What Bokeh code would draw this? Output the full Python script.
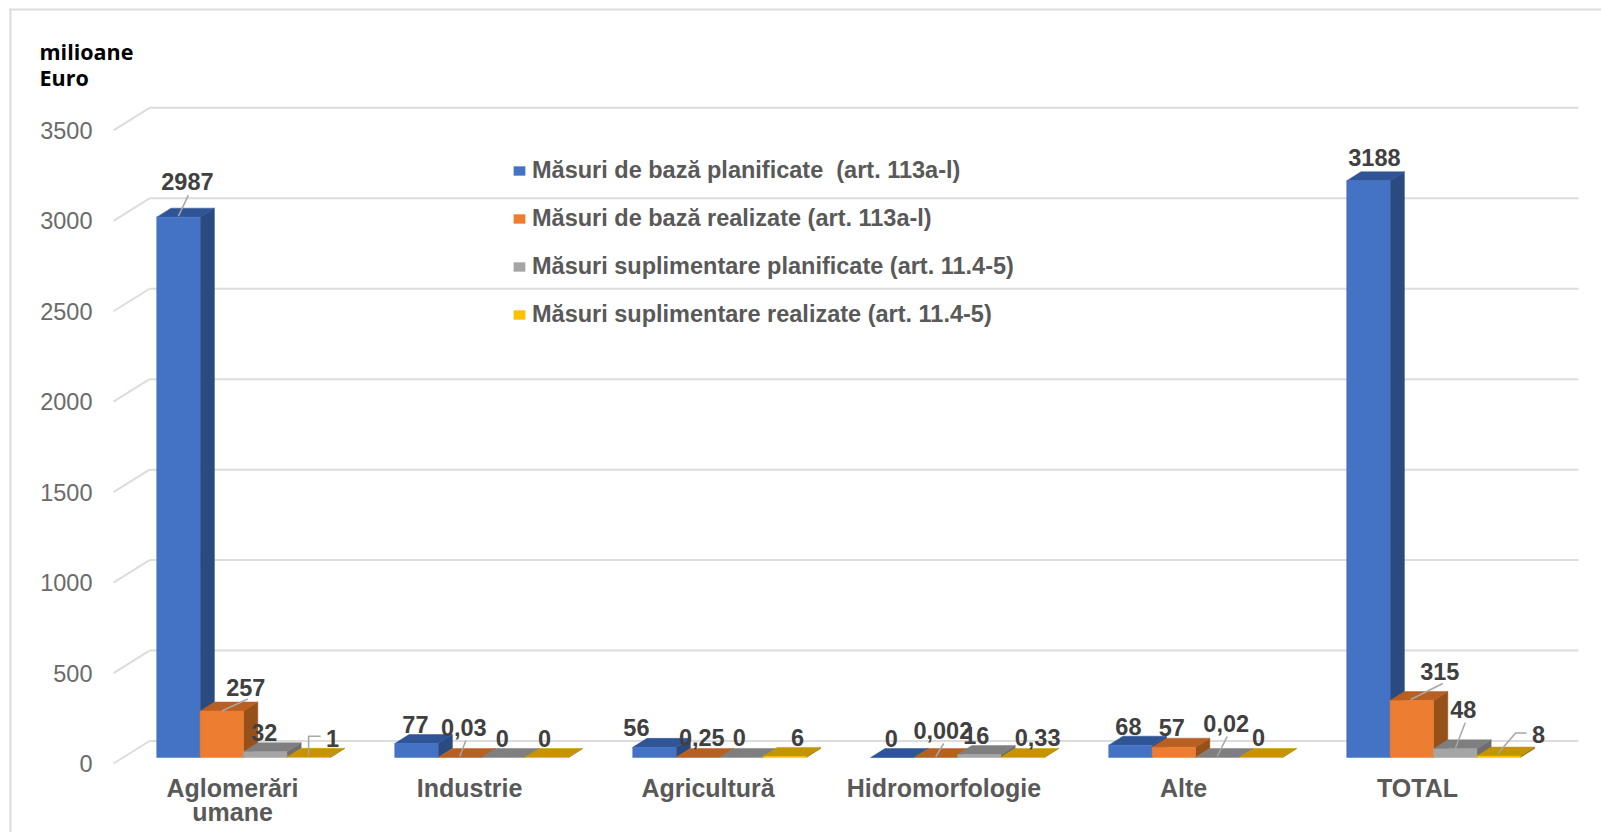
from bokeh.plotting import figure
from bokeh.models import (ColumnDataSource, FixedTicker, Legend, LegendItem, BoxAnnotation, Label)
from bokeh.core.properties import value
from bokeh.embed import file_html
from bokeh.resources import INLINE

categories = ["Aglomerări\numane", "Industrie", "Agricultură", "Hidromorfologie", "Alte", "TOTAL"]
series_names = ["Măsuri de bază planificate  (art. 113a-l)",
                "Măsuri de bază realizate (art. 113a-l)",
                "Măsuri suplimentare planificate (art. 11.4-5)",
                "Măsuri suplimentare realizate (art. 11.4-5)"]
baza_planificate = [2987, 77, 56, 0, 68, 3188]
baza_realizate = [257, 0.03, 0.25, 0.002, 57, 315]
supl_planificate = [32, 0, 0, 16, 0.02, 48]
supl_realizate = [1, 0, 6, 0.33, 0, 8]
series_values = [baza_planificate, baza_realizate, supl_planificate, supl_realizate]
series_labels = [["2987", "77", "56", "0", "68", "3188"],
                 ["257", "0,03", "0,25", "0,002", "57", "315"],
                 ["32", "0", "0", "16", "0,02", "48"],
                 ["1", "0", "6", "0,33", "0", "8"]]
y_ticks = [0, 500, 1000, 1500, 2000, 2500, 3000, 3500]

# colours: front, top, side
FRONT = ["#4472C4", "#ED7D31", "#A5A5A5", "#FFC000"]
TOP = ["#2F5597", "#B85F22", "#7F7F7F", "#C49500"]
SIDE = ["#2A4A80", "#96511B", "#6E6E6E", "#947000"]
GRID = "#DCDCDC"
FONT = "Liberation Sans"

# scales: pixels per data unit, and layout of the oblique projection
PX_X = 238.0
PX_Y = 0.1809
FIG_W, FIG_H = 1601, 832
x_start = (0 - 243) / PX_X
x_end = (FIG_W - 243) / PX_X
y_start = (763 - FIG_H) / PX_Y
y_end = 763 / PX_Y
BAR_W = 43.4 / PX_X
DEPTH_X = 14.3 / PX_X
DEPTH_Y = 9 / PX_Y
BAR_BASE = 6 / PX_Y
WALL_X0 = (149 - 243) / PX_X
WALL_X1 = (1578 - 243) / PX_X
WALL_DX = 36 / PX_X
WALL_DY = 22.5 / PX_Y

p = figure(width=FIG_W, height=FIG_H, output_backend="svg", toolbar_location=None,
           x_range=(x_start, x_end), y_range=(y_start, y_end),
           min_border=0, outline_line_color=None,
           background_fill_color="white", border_fill_color="white")
p.grid.visible = False

# y axis
p.yaxis.fixed_location = WALL_X0 - WALL_DX - 3 / PX_X
p.yaxis.ticker = FixedTicker(ticks=y_ticks)
p.yaxis.axis_line_color = None
p.yaxis.major_tick_line_color = None
p.yaxis.minor_tick_line_color = None
p.yaxis.major_label_text_font = FONT
p.yaxis.major_label_text_font_size = "23.5px"
p.yaxis.major_label_text_color = "#6A6A6A"
p.yaxis.major_label_standoff = 12

# x axis: first line of each category on the axis, further lines as text below it
label_shift = [-0.046, -0.050, -0.048, -0.057, -0.050, -0.067]
x_ticks = [round(i + s, 3) for i, s in enumerate(label_shift)]
XLAB_COLOR = "#595959"
XLAB_SIZE = "25px"
p.xaxis.fixed_location = -2 / PX_Y
p.xaxis.ticker = FixedTicker(ticks=x_ticks)
p.xaxis.major_label_overrides = {t: c.split("\n")[0] for t, c in zip(x_ticks, categories)}
p.xaxis.axis_line_color = None
p.xaxis.major_tick_line_color = None
p.xaxis.minor_tick_line_color = None
p.xaxis.major_label_text_font = FONT
p.xaxis.major_label_text_font_style = "bold"
p.xaxis.major_label_text_font_size = XLAB_SIZE
p.xaxis.major_label_text_color = XLAB_COLOR
p.xaxis.major_label_standoff = 2
for t, c in zip(x_ticks, categories):
    for line in c.split("\n")[1:]:
        p.text(x=[t], y=[(763 - 811) / PX_Y], text=[line], text_font=value(FONT), text_font_style="bold",
               text_font_size=XLAB_SIZE, text_color=XLAB_COLOR, text_align="center", text_baseline="middle")

# back wall lines and floor diagonals
p.segment(x0=[WALL_X0] * len(y_ticks), y0=[v + WALL_DY for v in y_ticks],
          x1=[WALL_X1] * len(y_ticks), y1=[v + WALL_DY for v in y_ticks],
          line_color=GRID, line_width=2)
p.segment(x0=[WALL_X0 - WALL_DX] * len(y_ticks), y0=y_ticks,
          x1=[WALL_X0] * len(y_ticks), y1=[v + WALL_DY for v in y_ticks],
          line_color=GRID, line_width=2)

# bars
front_renderers = []
for s, vals in enumerate(series_values):
    left = [g + (s - 2) * BAR_W for g in range(len(vals))]
    right = [l + BAR_W for l in left]
    base = [BAR_BASE] * len(vals)
    tops = [BAR_BASE + v for v in vals]
    side_xs = [[r, r + DEPTH_X, r + DEPTH_X, r] for r in right]
    side_ys = [[b, b + DEPTH_Y, t + DEPTH_Y, t] for b, t in zip(base, tops)]
    top_xs = [[l, r, r + DEPTH_X, l + DEPTH_X] for l, r in zip(left, right)]
    top_ys = [[t, t, t + DEPTH_Y, t + DEPTH_Y] for t in tops]
    p.patches(side_xs, side_ys, fill_color=SIDE[s], line_color=SIDE[s], line_width=0.5)
    p.patches(top_xs, top_ys, fill_color=TOP[s], line_color=TOP[s], line_width=0.5)
    front_renderers.append(p.quad(left=left, right=right, bottom=base, top=tops,
                                  fill_color=FRONT[s], line_color=FRONT[s], line_width=0.5))

# data label offsets from each bar's front top centre (pixels): series -> group
label_dx = [[9, -1, -18, -1, -2, 6], [24, 4, 4, 7, -2, 28], [-1, -1, -2, -3, 9, 8], [24, -2, 13, 15, -2, 40]]
label_dy = [[-36, -19, -20, -19, -19, -23], [-24, -30, -20, -27, -20, -29],
            [-19, -19, -20, -19, -34, -39], [-19, -19, -19, -20, -20, -22]]

# leader lines: (series, group, polyline offsets in pixels)
leaders = [
    (0, 0, [(10, -22), (0, -1)]),
    (1, 0, [(26, -12), (0, 0)]),
    (3, 0, [(12, -21), (0, -21), (0, -2)]),
    (1, 1, [(6, -17), (0, -1)]),
    (1, 3, [(8, -14), (0, -1)]),
    (2, 4, [(10, -21), (0, -1)]),
    (1, 5, [(31, -17), (-1, -1)]),
    (2, 5, [(10, -26), (0, 0)]),
    (3, 5, [(28, -23), (17, -23), (-1, -2)]),
]
lx, ly = [], []
for s, g, pts in leaders:
    ax = g + (s - 1.5) * BAR_W
    ay = BAR_BASE + series_values[s][g]
    lx.append([ax + d / PX_X for d, _ in pts])
    ly.append([ay - d / PX_Y for _, d in pts])
p.multi_line(lx, ly, line_color="#A6A6A6", line_width=1.5)

tx, ty, tt, tdx, tdy = [], [], [], [], []
for s, vals in enumerate(series_values):
    for g, v in enumerate(vals):
        tx.append(g + (s - 1.5) * BAR_W)
        ty.append(BAR_BASE + v)
        tt.append(series_labels[s][g])
        tdx.append(label_dx[s][g])
        tdy.append(label_dy[s][g])
p.text(x="x", y="y", text="t", x_offset="dx", y_offset="dy",
       source=ColumnDataSource(dict(x=tx, y=ty, t=tt, dx=tdx, dy=tdy)),
       text_font=value(FONT), text_font_style="bold", text_font_size="23.5px",
       text_color="#404040", text_align="center", text_baseline="middle")

# legend
legend = Legend(items=[LegendItem(label=n, renderers=[r]) for n, r in zip(series_names, front_renderers)],
                location=(512, 504), orientation="vertical", border_line_color=None,
                background_fill_alpha=0, padding=0, margin=0,
                glyph_width=14, glyph_height=11, label_height=12, label_width=10,
                label_standoff=6, spacing=21,
                label_text_font=FONT, label_text_font_style="bold", label_text_font_size="23.5px",
                label_text_color="#595959")
p.add_layout(legend)

# unit title
p.add_layout(Label(x=39, y=51, x_units="canvas", y_units="canvas", text="milioane", text_font="Open Sans",
                   text_font_style="bold", text_font_size="21.5px", text_color="#000000",
                   text_baseline="middle"))
p.add_layout(Label(x=39, y=77, x_units="canvas", y_units="canvas", text="Euro", text_font="Open Sans",
                   text_font_style="bold", text_font_size="21.5px", text_color="#000000",
                   text_baseline="middle"))

# chart frame lines
p.add_layout(BoxAnnotation(left=9, right=11, top=8, bottom=FIG_H, left_units="canvas", right_units="canvas",
                           top_units="canvas", bottom_units="canvas", fill_color=GRID, fill_alpha=1,
                           line_color=None, level="underlay"))
p.add_layout(BoxAnnotation(left=9, right=FIG_W, top=8, bottom=10, left_units="canvas", right_units="canvas",
                           top_units="canvas", bottom_units="canvas", fill_color=GRID, fill_alpha=1,
                           line_color=None, level="underlay"))

open("out.html", "w").write(file_html(p, INLINE))
